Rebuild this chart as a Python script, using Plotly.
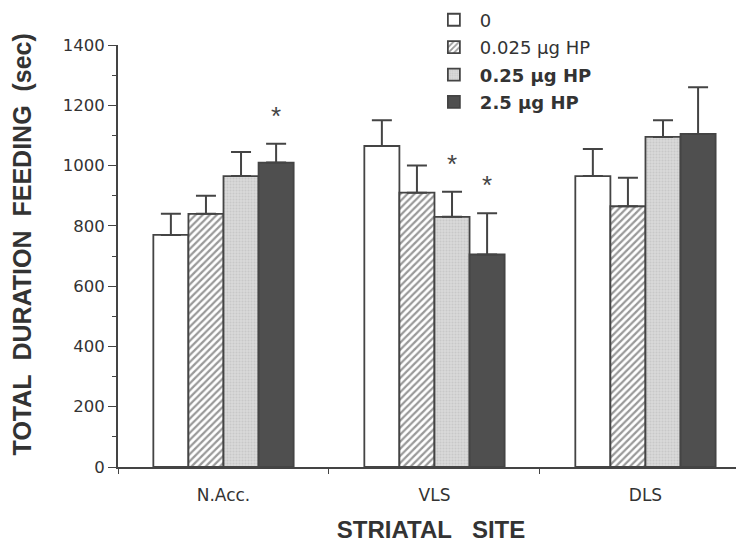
import plotly.graph_objects as go

sites = ["N.Acc.", "VLS", "DLS"]
legend_labels = ["0", "0.025 µg HP", "<b>0.25 µg HP</b>", "<b>2.5 µg HP</b>"]

mean_0 = [770, 1065, 965]
err_0 = [70, 85, 90]
mean_0025 = [840, 910, 865]
err_0025 = [60, 90, 95]
mean_025 = [965, 830, 1095]
err_025 = [80, 83, 55]
mean_25 = [1010, 705, 1105]
err_25 = [62, 137, 155]

sig_0 = [False, False, False]
sig_0025 = [False, False, False]
sig_025 = [False, True, False]
sig_25 = [True, True, False]

y_ticks = [0, 200, 400, 600, 800, 1000, 1200, 1400]

means = [mean_0, mean_0025, mean_025, mean_25]
errs = [err_0, err_0025, err_025, err_25]
sigs = [sig_0, sig_0025, sig_025, sig_25]

INK = "#444444"
TXT = "#333333"
SANS = "Liberation Sans, Arial, Helvetica, sans-serif"
WIDE = "DejaVu Sans, Liberation Sans, sans-serif"

styles = [
    dict(color="white"),
    dict(color="white", pattern=dict(shape="/", fgcolor="#333333", bgcolor="white", size=5, solidity=0.45)),
    dict(color="#d6d6d6", pattern=dict(shape=".", fgcolor="#b5b5b5", bgcolor="#dadada", size=3, solidity=0.4)),
    dict(color="#4f4f4f"),
]

fig = go.Figure()
for i in range(4):
    fig.add_trace(go.Bar(
        x=sites, y=means[i], name=legend_labels[i], legendgroup=str(i),
        marker=dict(**styles[i], line=dict(color=INK, width=1.8)),
        error_y=dict(type="data", symmetric=False, array=errs[i],
                     arrayminus=[0] * len(sites), color=INK, thickness=2, width=10),
    ))

bar_px = 35
for i in range(4):
    for j, s in enumerate(sites):
        if sigs[i][j]:
            fig.add_annotation(
                x=s, y=means[i][j] + errs[i][j], text="*", showarrow=False,
                xshift=(i - 1.5) * bar_px, yshift=28, yanchor="middle",
                font=dict(size=26, color=INK, family=SANS),
            )

# y-axis title as rotated paper-anchored text (sits slightly above centre in the original)
fig.add_annotation(
    xref="paper", yref="paper", x=-0.153, y=0.528, xanchor="center", yanchor="middle",
    textangle=-90, showarrow=False,
    text="<b>TOTAL&nbsp; DURATION&nbsp; FEEDING&nbsp; (sec)</b>",
    font=dict(size=25, color=TXT, family=SANS),
)

fig.update_layout(
    width=736, height=535,
    margin=dict(l=110, r=0, t=37, b=76, autoexpand=False),
    paper_bgcolor="white", plot_bgcolor="white",
    barmode="group", bargap=0.335, bargroupgap=0,
    font=dict(family=WIDE, color=TXT, size=16),
    legend=dict(x=0.495, y=1.103, xanchor="left", yanchor="top",
                font=dict(size=18, color=TXT, family=WIDE), tracegroupgap=1,
                traceorder="grouped",
                bgcolor="rgba(0,0,0,0)", itemwidth=42),
    xaxis=dict(
        range=[-0.5, 2.467], showline=True, linecolor=INK, linewidth=1.8,
        ticks="outside", tickson="boundaries", ticklen=5, tickcolor=INK,
        tickfont=dict(size=17, color=TXT, family=WIDE), ticklabelstandoff=12,
        title=dict(text="<b>STRIATAL&nbsp;&nbsp; SITE</b>",
                   font=dict(size=24, color=TXT, family=SANS), standoff=19),
    ),
    yaxis=dict(
        range=[0, 1400], showline=True, linecolor=INK, linewidth=1.8,
        tickvals=y_ticks,
        ticks="outside", ticklen=8, tickcolor=INK, showgrid=False, zeroline=False,
        minor=dict(dtick=100, ticks="outside", ticklen=4, tickcolor=INK, showgrid=False),
        tickfont=dict(size=16.5, color=TXT, family=WIDE),
    ),
)

fig.write_html("out.html")
